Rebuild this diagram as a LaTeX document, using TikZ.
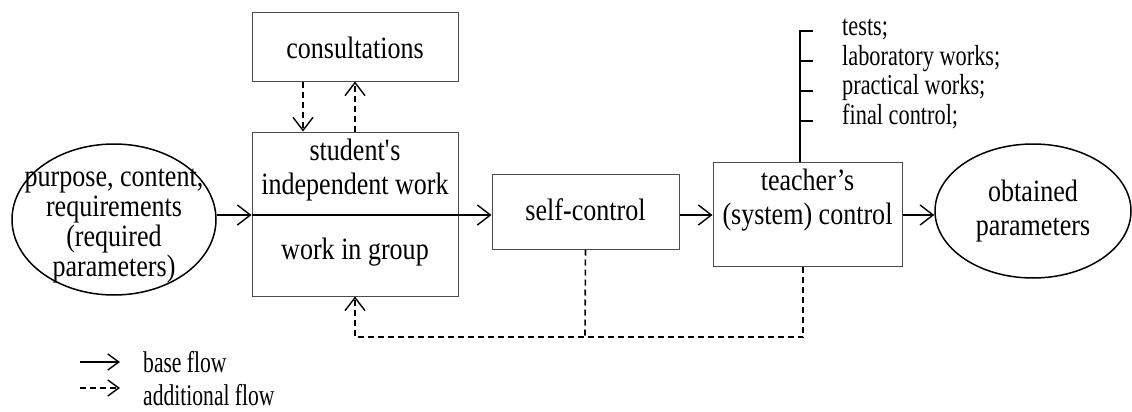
\documentclass[tikz,border=0pt]{standalone}
\usepackage{fontspec}
\setmainfont{Liberation Serif}
\newfontfamily\mainfam{Liberation Serif}[FakeStretch=0.84]
\newfontfamily\listfam{Liberation Serif}[FakeStretch=0.77]
\newfontfamily\legfam{Liberation Serif}[FakeStretch=0.72]
\usetikzlibrary{arrows.meta,shapes.geometric}
\begin{document}
\begin{tikzpicture}[x=1pt,y=-1pt,
  boxst/.style={draw=black!70,line width=1pt,rectangle,inner sep=0pt},
  ellst/.style={draw=black,line width=1.5pt,ellipse,inner sep=0pt},
  txt/.style={font=\mainfam\fontsize{31}{34}\selectfont,align=center,inner sep=0pt},
  smalltxt/.style={font=\listfam\fontsize{29}{29}\selectfont,anchor=west,inner sep=0pt},
  legtxt/.style={font=\legfam\fontsize{30}{30}\selectfont,anchor=west,inner sep=0pt},
  tip/.style={-{Straight Barb[length=13pt,width=20pt,line width=1.4pt]}},
  smalltip/.style={-{Straight Barb[length=11pt,width=16pt,line width=1.4pt]}},
  flow/.style={line width=1.4pt,tip},
  addflow/.style={line width=1.6pt,dash pattern=on 6pt off 4pt,tip},
  addline/.style={line width=1.6pt,dash pattern=on 6pt off 4pt},
  plain/.style={line width=1.2pt}]
\useasboundingbox (0,0) rectangle (1132,412);

% nodes
\node[ellst,minimum width=204pt,minimum height=151pt] (inp) at (114,219.5) {};
\node[txt,font=\mainfam\fontsize{31}{30}\selectfont] (inptxt) at (114,226) {purpose, content,\\requirements\\(required\\parameters)};
\node[boxst,minimum width=206pt,minimum height=68pt] (cons) at (355,47) {};
\node[txt] (constxt) at (355,48) {consultations};
\node[boxst,minimum width=206pt,minimum height=164pt] (stud) at (355,214) {};
\node[txt] (studtxt) at (355,170) {student\textquotesingle s\\independent work};
\node[txt] (grptxt) at (355,252) {work in group};
\node[boxst,minimum width=187pt,minimum height=75pt] (self) at (585.5,211.5) {};
\node[txt] (selftxt) at (585.5,210) {self-control};
\node[boxst,minimum width=189pt,minimum height=104pt] (teach) at (807.5,214) {};
\node[txt] (teachtxt) at (807.5,200) {teacher’s\\(system) control};
\node[ellst,minimum width=196pt,minimum height=134pt] (obt) at (1033,211) {};
\node[txt] (obttxt) at (1033,211) {obtained\\parameters};

% helper coordinates
\coordinate (mid) at (0,215);
\coordinate (fbL) at (355,337);
\coordinate (fbR) at (803,337);
\coordinate (fbM) at (585,337);
\coordinate (consD) at (303,0);
\coordinate (listTop) at (800,31);

% base flow
\draw[flow] (inp.east |- mid) -- (stud.west |- mid);
\draw[plain] (stud.west |- mid) -- (stud.east |- mid);
\draw[flow] (stud.east |- mid) -- (self.west |- mid);
\draw[flow] (self.east |- mid) -- (teach.west |- mid);
\draw[flow] (teach.east |- mid) -- (obt.west |- mid);

% consultations
\draw[addflow] (cons.south -| consD) -- (stud.north -| consD);
\draw[addflow] (stud.north) -- (cons.south);

% feedback
\draw[addline] (self.south) -- (fbM);
\draw[addflow] (teach.south -| fbR) -- (fbR) -- (fbL) -- (stud.south -| fbL);

% list
\draw[plain] (teach.north -| listTop) -- (listTop) -- ++(13,0);
\coordinate (t2) at (800,61);
\coordinate (t3) at (800,91);
\coordinate (t4) at (800,121);
\draw[plain] (t2) -- ++(13,0);
\draw[plain] (t3) -- ++(13,0);
\draw[plain] (t4) -- ++(13,0);
\node[smalltxt] (l1) at (842,30) {tests;};
\node[smalltxt] (l2) at (842,59) {laboratory works;};
\node[smalltxt] (l3) at (842,88) {practical works;};
\node[smalltxt] (l4) at (842,117) {final control;};

% legend
\coordinate (lg1a) at (80,362);
\coordinate (lg1b) at (120,362);
\coordinate (lg2a) at (80,388);
\coordinate (lg2b) at (120,388);
\draw[line width=1.4pt,smalltip] (lg1a) -- (lg1b);
\draw[line width=1.6pt,dash pattern=on 6pt off 4pt,smalltip] (lg2a) -- (lg2b);
\node[legtxt] (lgt1) at (143,362) {base flow};
\node[legtxt] (lgt2) at (143,395) {additional flow};
\end{tikzpicture}
\end{document}
